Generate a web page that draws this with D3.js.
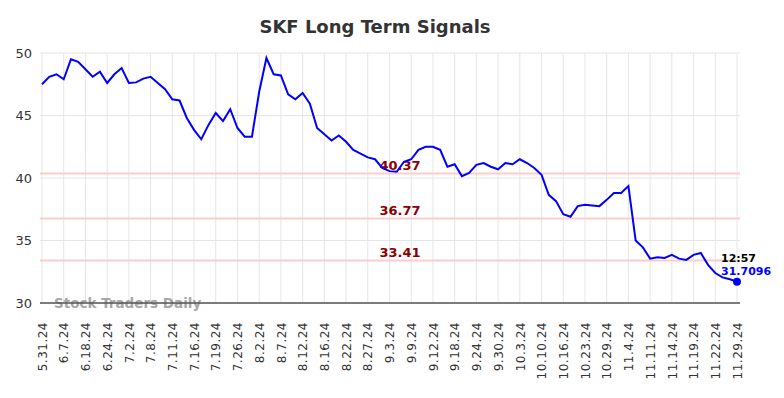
<!DOCTYPE html>
<html>
<head>
<meta charset="utf-8">
<script src="https://cdn.jsdelivr.net/npm/d3@7"></script>
<style>
	body { margin: 0; background: #fff; }
	svg { font-family: 'DejaVu Sans', sans-serif; }
</style>
</head>
<body>
<svg class="chart" width="784" height="398"></svg>
<script>
/** DATA **/
let title = 'SKF Long Term Signals';

// closing prices, one per point
let prices = [
	47.5, 48.1, 48.3, 47.9, 49.5, 49.3, 48.7, 48.1, 48.5, 47.6,
	48.3, 48.8, 47.6, 47.65, 47.95, 48.1, 47.6, 47.1, 46.3, 46.2,
	44.8, 43.85, 43.1, 44.25, 45.2, 44.55, 45.5, 44.0, 43.3, 43.3,
	46.9, 49.6, 48.3, 48.2, 46.7, 46.3, 46.8, 45.95, 44.0, 43.5,
	43.0, 43.4, 42.9, 42.25, 41.95, 41.65, 41.5, 40.8, 40.55, 40.5,
	41.3, 41.5, 42.25, 42.5, 42.5, 42.25, 40.9, 41.1, 40.15, 40.4,
	41.05, 41.2, 40.9, 40.7, 41.2, 41.1, 41.5, 41.2, 40.8, 40.25,
	38.65, 38.15, 37.1, 36.9, 37.75, 37.85, 37.8, 37.75, 38.25, 38.8,
	38.8, 39.35, 35.0, 34.45, 33.55, 33.65, 33.6, 33.85, 33.55, 33.45,
	33.85, 34.0, 33.05, 32.4, 32.05, 31.9, 31.7096
];

// every third point carries a date label
let tickLabels = [
	'5.31.24', '6.7.24', '6.18.24', '6.24.24', '7.2.24', '7.8.24', '7.11.24',
	'7.16.24', '7.19.24', '7.26.24', '8.2.24', '8.7.24', '8.12.24', '8.16.24',
	'8.22.24', '8.27.24', '9.3.24', '9.9.24', '9.12.24', '9.18.24', '9.24.24',
	'9.30.24', '10.3.24', '10.10.24', '10.16.24', '10.23.24', '10.29.24', '11.4.24',
	'11.11.24', '11.14.24', '11.19.24', '11.22.24', '11.29.24'
];
let tickStep = 3;

let yTicks = [30, 35, 40, 45, 50];
let signals = [40.37, 36.77, 33.41];
let lastTime = '12:57';
let lastLabel = '31.7096';

/** CONSTANTS **/
let margin = { top: 53, right: 44, bottom: 95, left: 40 };
let width = 784 - margin.left - margin.right;
let height = 398 - margin.top - margin.bottom;

let x = d3.scaleLinear().domain([0, prices.length - 1]).range([2, width - 3]);
let y = d3.scaleLinear().domain([30, 50]).range([height, 0]);

let svg = d3.select('.chart');
let g = svg.append('g').attr('transform', 'translate(' + margin.left + ',' + margin.top + ')');

// title
svg.append('text')
	.attr('x', 375)
	.attr('y', 33)
	.attr('text-anchor', 'middle')
	.style('font', 'bold 18px "DejaVu Sans"')
	.style('fill', '#333')
	.text(title);

// grid
let tickIdx = d3.range(0, prices.length, tickStep);

g.selectAll('.vgrid')
	.data(tickIdx)
	.enter()
	.append('line')
	.attr('class', 'vgrid')
	.attr('x1', function(d) { return x(d); })
	.attr('x2', function(d) { return x(d); })
	.attr('y1', 0)
	.attr('y2', height)
	.style('stroke', '#e6e6e6')
	.style('stroke-width', 1);

g.selectAll('.hgrid')
	.data(yTicks)
	.enter()
	.append('line')
	.attr('class', 'hgrid')
	.attr('x1', 0)
	.attr('x2', width)
	.attr('y1', function(d) { return y(d); })
	.attr('y2', function(d) { return y(d); })
	.style('stroke', '#e6e6e6')
	.style('stroke-width', 1);

// signal lines
g.selectAll('.signal')
	.data(signals)
	.enter()
	.append('line')
	.attr('class', 'signal')
	.attr('x1', 0)
	.attr('x2', width)
	.attr('y1', function(d) { return y(d); })
	.attr('y2', function(d) { return y(d); })
	.style('stroke', '#ffcccc')
	.style('stroke-width', 2);

g.selectAll('.signal-label')
	.data(signals)
	.enter()
	.append('text')
	.attr('class', 'signal-label')
	.attr('x', 360)
	.attr('y', function(d) { return y(d) - 3; })
	.attr('text-anchor', 'middle')
	.style('font', 'bold 13px "DejaVu Sans"')
	.style('fill', '#8b0000')
	.text(function(d) { return d.toFixed(2); });

// watermark
g.append('text')
	.attr('x', 14)
	.attr('y', height + 5)
	.style('font', 'bold 13.5px "DejaVu Sans"')
	.style('fill', '#999')
	.style('opacity', 0.85)
	.text('Stock Traders Daily');

// y axis
let yAxis = g.append('g')
	.call(d3.axisLeft(y).tickValues(yTicks).tickSize(0).tickPadding(8));
yAxis.select('.domain').remove();
yAxis.selectAll('text')
	.style('font', '13px "DejaVu Sans"')
	.style('fill', '#333');

// x axis
let xAxis = g.append('g')
	.attr('transform', 'translate(0,' + height + ')')
	.call(d3.axisBottom(x)
		.tickValues(tickIdx)
		.tickSize(0)
		.tickFormat(function(d) { return tickLabels[d / tickStep]; }));
xAxis.select('.domain')
	.attr('d', 'M0,0H' + width)
	.style('stroke', '#555')
	.style('stroke-width', 1.3);
xAxis.selectAll('text')
	.attr('transform', 'rotate(-90)')
	.attr('x', -19)
	.attr('y', 0)
	.attr('dy', '0.35em')
	.attr('text-anchor', 'end')
	.style('font', '12px "DejaVu Sans"')
	.style('letter-spacing', '0.5px')
	.style('fill', '#333');

// price line
let line = d3.line()
	.x(function(d, i) { return x(i); })
	.y(function(d) { return y(d); });

g.append('path')
	.datum(prices)
	.attr('d', line)
	.style('fill', 'none')
	.style('stroke', '#0000ff')
	.style('stroke-width', 2);

// last point
let last = prices.length - 1;
g.append('circle')
	.attr('cx', x(last))
	.attr('cy', y(prices[last]))
	.attr('r', 4)
	.style('fill', '#0000ff');

g.append('text')
	.attr('x', x(last) - 16)
	.attr('y', y(prices[last]) - 20)
	.style('font', 'bold 11px "DejaVu Sans"')
	.style('fill', '#000')
	.text(lastTime);

g.append('text')
	.attr('x', x(last) - 16)
	.attr('y', y(prices[last]) - 7)
	.style('font', 'bold 11px "DejaVu Sans"')
	.style('fill', '#0000ff')
	.text(lastLabel);
</script>
</body>
</html>
